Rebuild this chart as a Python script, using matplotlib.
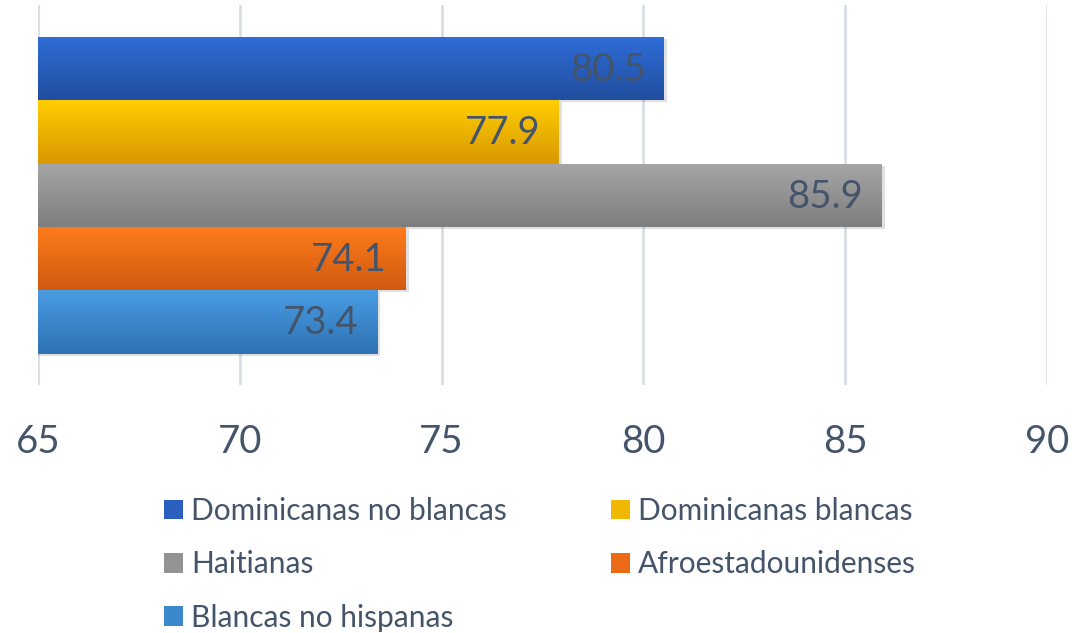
import matplotlib
matplotlib.use("Agg")
import matplotlib.pyplot as plt
import numpy as np
from matplotlib.patches import Rectangle, Patch
from matplotlib.colors import LinearSegmentedColormap

categories = ["Dominicanas no blancas", "Dominicanas blancas", "Haitianas",
              "Afroestadounidenses", "Blancas no hispanas"]
values = [80.5, 77.9, 85.9, 74.1, 73.4]
top_colors = ["#2F6DD8", "#FFCE00", "#A6A6A6", "#FF7C1C", "#4A9CE2"]
bottom_colors = ["#214E9E", "#D99800", "#7E7E7E", "#CF5A10", "#2D72B4"]
xticks = [65, 70, 75, 80, 85, 90]

plt.rcParams['font.family'] = ['Lato', 'DejaVu Sans']
txt_color = "#44546A"

fig = plt.figure(figsize=(10.72, 6.33), dpi=100)
ax = fig.add_axes([38/1072, 1-385/633, (1047-38)/1072, 380/633])
ax.set_xlim(65, 90)
ax.set_ylim(-0.99, 5.0)

positions = [4, 3, 2, 1, 0]
for v, y, tc, bc in zip(values, positions, top_colors, bottom_colors):
    sh = Rectangle((65, y - 0.5 - 0.03), v - 65 + 0.08, 1.0, facecolor="#000000",
                   alpha=0.12, edgecolor="none", zorder=2)
    ax.add_patch(sh)
    cmap = LinearSegmentedColormap.from_list("g", [bc, tc])
    grad = np.linspace(0, 1, 256).reshape(-1, 1)
    im = ax.imshow(grad, cmap=cmap, aspect="auto", origin="lower",
                   extent=[65, v, y - 0.5, y + 0.5], zorder=3)
    rect = Rectangle((65, y - 0.5), v - 65, 1.0, facecolor="none", edgecolor="none", zorder=3)
    ax.add_patch(rect)
    im.set_clip_path(rect)
    ax.text(v - 0.45, y - 0.02, f"{v:.1f}", ha="right", va="center",
            fontsize=27.5, color=txt_color, zorder=4)

ax.set_xticks(xticks)
ax.set_xticklabels([str(t) for t in xticks], fontsize=27.5, color=txt_color)
ax.set_yticks([])
ax.tick_params(axis="x", length=0, pad=28)
ax.grid(axis="x", color="#D9DEE6", linewidth=2, zorder=0)
ax.set_axisbelow(True)
for s in ax.spines.values():
    s.set_visible(False)

mids = ["#2A5FC0", "#F0B800", "#939393", "#EA6A16", "#3B88CC"]
handles = [Patch(facecolor=m, edgecolor="none") for m in mids]
order = [0, 2, 4, 1, 3]
leg = fig.legend([handles[i] for i in order], [categories[i] for i in order],
                 loc="upper left", bbox_to_anchor=(152/1072, 1-485/633), ncol=2,
                 frameon=False, fontsize=21.5, handlelength=0.63, handleheight=0.63,
                 handletextpad=0.27, columnspacing=3.5, labelspacing=0.85,
                 borderaxespad=0, labelcolor=txt_color)

fig.savefig("out.png", dpi=100)
